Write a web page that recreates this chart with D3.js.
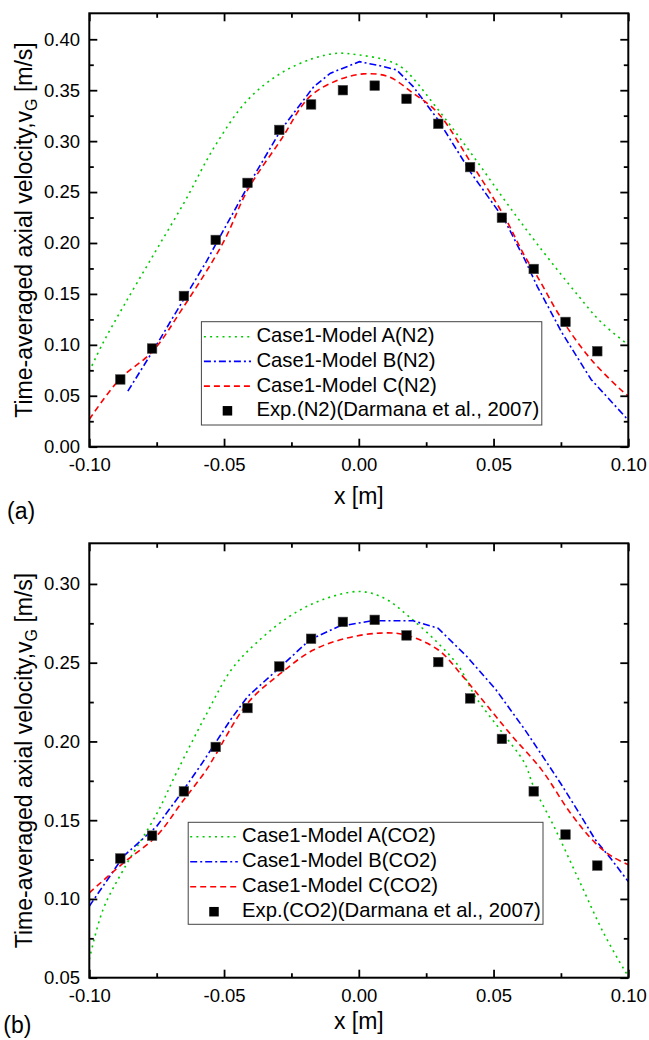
<!DOCTYPE html>
<html>
<head>
<meta charset="utf-8">
<script src="https://cdn.jsdelivr.net/npm/d3@7/dist/d3.min.js"></script>
<style>
  html, body { margin: 0; padding: 0; background: #fff; }
  svg { display: block; }
  text { font-family: "Liberation Sans", Arial, sans-serif; fill: #000; }
</style>
</head>
<body>
<svg id="chart" width="649" height="1040"></svg>
<script>
// Radial positions of the measurements [m]
const xExp = [-0.0885, -0.0767, -0.0649, -0.0531, -0.0413, -0.0295, -0.0177, -0.0059,
               0.0059,  0.0177,  0.0295,  0.0413,  0.0531,  0.0649,  0.0767,  0.0885];

// (a) N2 — measured and simulated time-averaged axial gas velocity [m/s]
const vExpN2 = [0.066, 0.0964, 0.148, 0.203, 0.259, 0.311, 0.336, 0.350,
                0.3545, 0.3415, 0.317, 0.2745, 0.2248, 0.1745, 0.1225, 0.0937];

const xN2A = [-0.1, -0.0949, -0.0873, -0.0765, -0.0642, -0.0535, -0.0412, -0.0289, -0.0167, -0.0077,
              0.0, 0.0094, 0.0163, 0.0294, 0.0417, 0.054, 0.0662, 0.0816, 0.09, 0.1];
const vN2A = [0.074, 0.102, 0.138, 0.187, 0.2425, 0.2947, 0.3405, 0.3667, 0.3814, 0.3863,
              0.3846, 0.380, 0.3716, 0.331, 0.288, 0.2425, 0.199, 0.1477, 0.122, 0.100];

const xN2B = [-0.0857, -0.0757, -0.0658, -0.0565, -0.0535, -0.0412, -0.0289, -0.0167, -0.0105, 0.0002,
              0.0079, 0.014, 0.0202, 0.0294, 0.0417, 0.054, 0.0616, 0.0662, 0.0754, 0.0862, 0.0992, 0.1];
const vN2B = [0.0545, 0.097, 0.141, 0.182, 0.1967, 0.2555, 0.311, 0.3535, 0.3667, 0.378,
              0.374, 0.370, 0.3535, 0.321, 0.2686, 0.223, 0.1836, 0.1575, 0.1118, 0.066, 0.0284, 0.027];

const xN2C = [-0.1, -0.0888, -0.0765, -0.0657, -0.0504, -0.0412, -0.0289, -0.0182, -0.0075, 0.0017,
              0.011, 0.0202, 0.0294, 0.0417, 0.054, 0.0616, 0.0662, 0.0754, 0.0862, 0.0992, 0.1];
const vN2C = [0.0268, 0.066, 0.0937, 0.1346, 0.200, 0.2523, 0.3013, 0.3437, 0.3601, 0.366,
              0.3633, 0.347, 0.3275, 0.2784, 0.226, 0.1869, 0.1673, 0.1248, 0.0856, 0.0513, 0.050];

// (b) CO2 — measured and simulated time-averaged axial gas velocity [m/s]
const vExpCO2 = [0.1257, 0.1402, 0.1683, 0.1965, 0.2212, 0.2476, 0.2652, 0.2759,
                 0.2772, 0.2673, 0.2504, 0.2273, 0.2016, 0.1683, 0.1409, 0.1212];

const xCO2A = [-0.1, -0.0949, -0.0873, -0.075, -0.0674, -0.0565, -0.0473, -0.0381, -0.0258, -0.0136,
               0.0002, 0.0094, 0.0186, 0.0294, 0.0371, 0.0432, 0.0524, 0.0616, 0.0647, 0.0724,
               0.0816, 0.0908, 0.0984, 0.1];
const vCO2A = [0.0616, 0.0933, 0.1187, 0.154, 0.181, 0.2175, 0.2455, 0.2624, 0.2793, 0.2899,
               0.2952, 0.291, 0.2793, 0.2624, 0.2476, 0.2286, 0.2075, 0.186, 0.172, 0.1461,
               0.1123, 0.0785, 0.0553, 0.051];

const xCO2B = [-0.1, -0.0873, -0.075, -0.0658, -0.0581, -0.0473, -0.0412, -0.0289, -0.0182, -0.0075,
               0.0048, 0.0202, 0.0294, 0.0401, 0.0509, 0.0616, 0.0708, 0.0754, 0.0816, 0.0877,
               0.0938, 0.1];
const vCO2B = [0.0954, 0.1271, 0.1461, 0.1673, 0.1863, 0.2145, 0.2286, 0.2476, 0.2645, 0.273,
               0.2766, 0.2766, 0.2719, 0.2539, 0.2328, 0.2075, 0.184, 0.172, 0.155, 0.1377,
               0.125, 0.111];

const xCO2C = [-0.1, -0.0873, -0.075, -0.0658, -0.0565, -0.0535, -0.0412, -0.0289, -0.0167, -0.0044,
               0.0079, 0.0171, 0.0294, 0.0386, 0.0478, 0.057, 0.0678, 0.0785, 0.0877, 0.0938, 0.1];
const vCO2C = [0.1039, 0.1229, 0.140, 0.161, 0.1821, 0.1905, 0.2244, 0.2434, 0.2582, 0.2656,
               0.2688, 0.2677, 0.2582, 0.2413, 0.2223, 0.2032, 0.1821, 0.1546, 0.1356, 0.1271, 0.1218];

// Axis ticks
const xTicks = [-0.10, -0.05, 0.00, 0.05, 0.10];
const yTicksN2 = [0.00, 0.05, 0.10, 0.15, 0.20, 0.25, 0.30, 0.35, 0.40];
const yTicksCO2 = [0.05, 0.10, 0.15, 0.20, 0.25, 0.30];

// Legend labels
const labelsN2 = ["Case1-Model A(N2)", "Case1-Model B(N2)", "Case1-Model C(N2)", "Exp.(N2)(Darmana et al., 2007)"];
const labelsCO2 = ["Case1-Model A(CO2)", "Case1-Model B(CO2)", "Case1-Model C(CO2)", "Exp.(CO2)(Darmana et al., 2007)"];

// Line styles for the three models
const styles = [
  { color: "#00cc00", dash: "2,4.2", curve: d3.curveCatmullRom },
  { color: "#0000ff", dash: "7,3,2,3", curve: d3.curveLinear },
  { color: "#ff0000", dash: "6,4", curve: d3.curveCatmullRom }
];

const svg = d3.select("#chart");
svg.append("rect").attr("width", 649).attr("height", 1040).attr("fill", "#fff");

function minorOf(ticks) {
  const out = [];
  for (let i = 0; i < ticks.length - 1; i++) out.push((ticks[i] + ticks[i + 1]) / 2);
  return out;
}

function drawPanel(p) {
  const g = svg.append("g");
  const x = d3.scaleLinear().domain([-0.1, 0.1]).range([p.left, p.right]);
  const y = d3.scaleLinear().domain(p.yDomain).range([p.bottom, p.top]);
  const fmt = d => d.toFixed(2);

  const clipId = "clip" + p.id;
  svg.append("clipPath").attr("id", clipId)
    .append("rect").attr("x", p.left).attr("y", p.top)
    .attr("width", p.right - p.left).attr("height", p.bottom - p.top);

  // Model curves
  const series = [[p.xA, p.vA], [p.xB, p.vB], [p.xC, p.vC]];
  series.forEach((s, i) => {
    const pts = s[0].map((xv, k) => [xv, s[1][k]]);
    g.append("path")
      .attr("clip-path", `url(#${clipId})`)
      .attr("d", d3.line().x(d => x(d[0])).y(d => y(d[1])).curve(styles[i].curve)(pts))
      .attr("fill", "none")
      .attr("stroke", styles[i].color)
      .attr("stroke-width", 1.6)
      .attr("stroke-dasharray", styles[i].dash);
  });

  // Measurements
  const sq = 9.5;
  g.selectAll("rect.exp").data(xExp.map((xv, k) => [xv, p.vExp[k]])).enter()
    .append("rect").attr("class", "exp")
    .attr("x", d => x(d[0]) - sq / 2).attr("y", d => y(d[1]) - sq / 2)
    .attr("width", sq).attr("height", sq)
    .attr("fill", "#000").attr("stroke", "#444").attr("stroke-width", 0.6);

  // Axes: ticks point inward on all four sides
  const major = 8, minor = 4.5;
  const styleAxis = sel => {
    sel.select(".domain").remove();
    sel.selectAll(".tick line").attr("stroke", "#000").attr("stroke-width", 1.8);
    sel.selectAll(".tick text").attr("font-family", "'Liberation Sans', Arial, sans-serif")
      .attr("font-size", 18.5).attr("fill", "#000");
  };
  const xMinor = minorOf(xTicks);
  const yMinor = minorOf(p.yTicks);

  g.append("g").attr("transform", `translate(0,${p.bottom})`)
    .call(d3.axisBottom(x).tickValues(xTicks).tickSize(-major).tickPadding(11.6).tickFormat(fmt)).call(styleAxis);
  g.append("g").attr("transform", `translate(0,${p.bottom})`)
    .call(d3.axisBottom(x).tickValues(xMinor).tickSize(-minor).tickFormat("")).call(styleAxis);
  g.append("g").attr("transform", `translate(0,${p.top})`)
    .call(d3.axisTop(x).tickValues(xTicks).tickSize(-major).tickFormat("")).call(styleAxis);
  g.append("g").attr("transform", `translate(0,${p.top})`)
    .call(d3.axisTop(x).tickValues(xMinor).tickSize(-minor).tickFormat("")).call(styleAxis);

  g.append("g").attr("transform", `translate(${p.left},0)`)
    .call(d3.axisLeft(y).tickValues(p.yTicks).tickSize(-major).tickPadding(9.3).tickFormat(fmt)).call(styleAxis);
  g.append("g").attr("transform", `translate(${p.left},0)`)
    .call(d3.axisLeft(y).tickValues(yMinor).tickSize(-minor).tickFormat("")).call(styleAxis);
  g.append("g").attr("transform", `translate(${p.right},0)`)
    .call(d3.axisRight(y).tickValues(p.yTicks).tickSize(-major).tickFormat("")).call(styleAxis);
  g.append("g").attr("transform", `translate(${p.right},0)`)
    .call(d3.axisRight(y).tickValues(yMinor).tickSize(-minor).tickFormat("")).call(styleAxis);

  // Frame
  g.append("rect").attr("x", p.left).attr("y", p.top)
    .attr("width", p.right - p.left).attr("height", p.bottom - p.top)
    .attr("fill", "none").attr("stroke", "#000").attr("stroke-width", 2);

  // Axis titles
  g.append("text").attr("x", (p.left + p.right) / 2).attr("y", p.xTitleY)
    .attr("text-anchor", "middle").attr("font-size", 23).text("x [m]");

  const yt = g.append("text")
    .attr("transform", `translate(32,${(p.top + p.bottom) / 2}) rotate(-90)`)
    .attr("text-anchor", "middle").attr("font-size", 23);
  yt.append("tspan").text("Time-averaged axial velocity,v");
  yt.append("tspan").attr("font-size", 16).attr("dy", 5).text("G");
  yt.append("tspan").attr("dy", -5).text(" [m/s]");

  // Panel tag
  g.append("text").attr("x", p.tagX).attr("y", p.tagY)
    .attr("font-family", "'Liberation Serif', 'Times New Roman', serif")
    .attr("font-size", 23).text(p.tag);

  // Legend
  const L = p.legend;
  g.append("rect").attr("x", L.x0).attr("y", L.y0)
    .attr("width", L.x1 - L.x0).attr("height", L.y1 - L.y0)
    .attr("fill", "#fff").attr("stroke", "#444").attr("stroke-width", 1);
  p.labels.forEach((lab, i) => {
    const cy = L.row0 + i * L.step;
    if (i < 3) {
      g.append("line").attr("x1", L.lx0).attr("x2", L.lx1).attr("y1", cy).attr("y2", cy)
        .attr("stroke", styles[i].color).attr("stroke-width", 1.6)
        .attr("stroke-dasharray", styles[i].dash);
    } else {
      g.append("rect").attr("x", (L.lx0 + L.lx1) / 2 - sq / 2).attr("y", cy - sq / 2)
        .attr("width", sq).attr("height", sq).attr("fill", "#000");
    }
    g.append("text").attr("x", L.tx).attr("y", cy + 5.4)
      .attr("font-size", 20.3).text(lab);
  });
}

drawPanel({
  id: "a", left: 89.3, right: 628.3, top: 13.3, bottom: 446.7,
  yDomain: [0, 0.4255], yTicks: yTicksN2,
  xA: xN2A, vA: vN2A, xB: xN2B, vB: vN2B, xC: xN2C, vC: vN2C, vExp: vExpN2,
  xTitleY: 504, tag: "(a)", tagX: 7, tagY: 519,
  labels: labelsN2,
  legend: { x0: 201.4, x1: 541.8, y0: 321.7, y1: 425, row0: 336.7, step: 24.7, lx0: 203.9, lx1: 251, tx: 256.4 }
});

drawPanel({
  id: "b", left: 89.3, right: 628.3, top: 543.3, bottom: 977.7,
  yDomain: [0.05, 0.3258], yTicks: yTicksCO2,
  xA: xCO2A, vA: vCO2A, xB: xCO2B, vB: vCO2B, xC: xCO2C, vC: vCO2C, vExp: vExpCO2,
  xTitleY: 1029, tag: "(b)", tagX: 3.3, tagY: 1033,
  labels: labelsCO2,
  legend: { x0: 188.2, x1: 543, y0: 822.3, y1: 924.3, row0: 836.7, step: 25, lx0: 190.2, lx1: 237.8, tx: 242 }
});
</script>
</body>
</html>
